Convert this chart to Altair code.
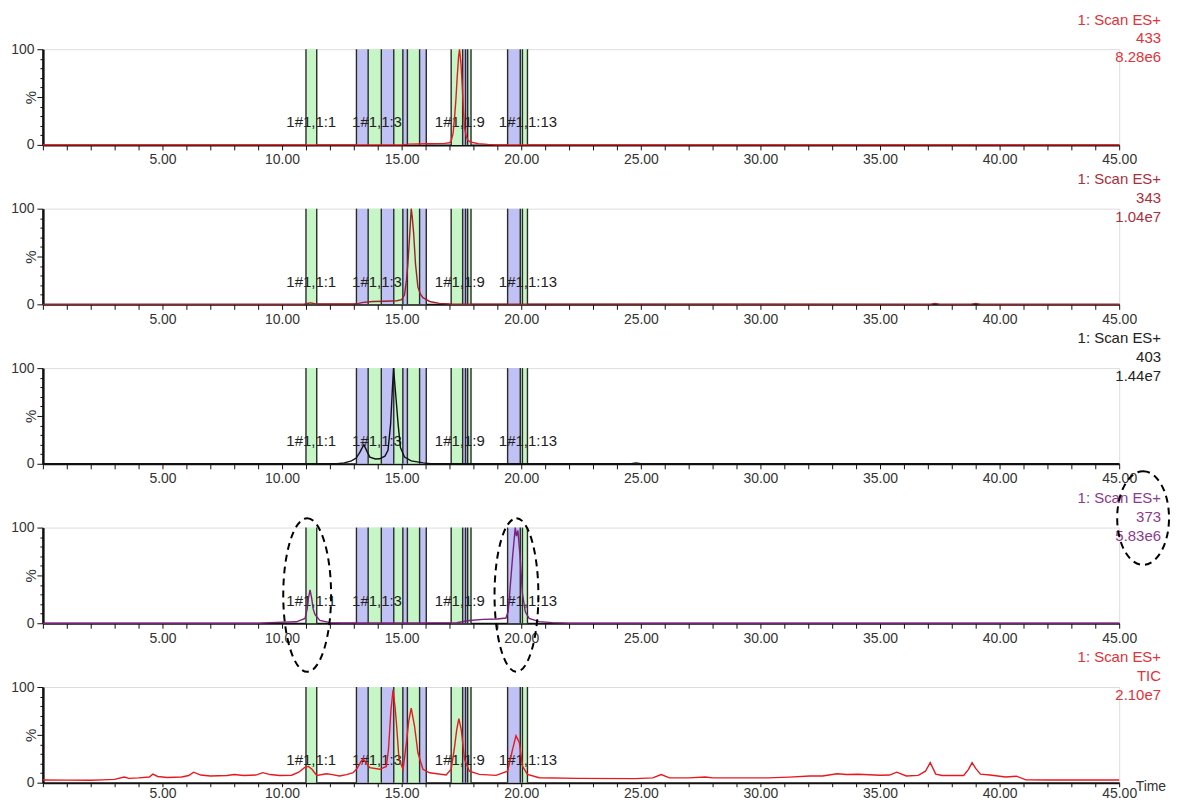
import altair as alt
import pandas as pd

# ---------------- data ----------------
x_tick_values = list(range(0, 46))
y_tick_values = list(range(0, 101, 10))

band_start = [11.00, 13.11, 13.60, 14.15, 14.67, 15.05, 15.24, 15.75, 17.07, 17.55, 17.67, 17.76, 19.43, 19.96, 20.05]
band_end = [11.45, 13.60, 14.15, 14.67, 15.05, 15.24, 15.75, 16.03, 17.55, 17.67, 17.76, 17.90, 19.96, 20.05, 20.26]
band_kind = ["g", "b", "g", "b", "g", "b", "g", "b", "g", "b", "b", "g", "b", "g", "g"]

frac_labels = ["1#1,1:1", "1#1,1:3", "1#1,1:9", "1#1,1:13"]
frac_label_time = [11.22, 13.97, 17.43, 20.28]
FRAC_LABEL_PCT = 23.5

scan_name = "1: Scan ES+"
channels = ["433", "343", "403", "373", "TIC"]
intensities = ["8.28e6", "1.04e7", "1.44e7", "5.83e6", "2.10e7"]

t_433 = [0, 15.0, 15.3, 15.7, 16.0, 16.4, 16.8, 17.0, 17.07, 17.15, 17.21, 17.27, 17.32, 17.38, 17.42, 17.48,
         17.53, 17.58, 17.63, 17.7, 17.76, 17.85, 17.97, 18.2, 18.6, 19.0, 45]
p_433 = [0, 0, 0.8, 1.0, 1.2, 1.3, 1.6, 2.2, 4, 12, 28, 48, 70, 92, 100, 85,
         63, 38, 18, 9, 5, 3.5, 2.5, 1.3, 0.5, 0, 0]

t_343 = [0, 10.9, 11.1, 11.2, 11.4, 13.0, 13.2, 13.4, 13.8, 14.3, 14.8, 15.0, 15.12, 15.2, 15.26, 15.33, 15.4,
         15.44, 15.5, 15.58, 15.68, 15.78, 15.89, 16.17, 16.58, 17.0, 37.1, 37.3, 37.5, 38.8, 39.0, 39.2, 45]
p_343 = [0, 0, 1.2, 1.5, 0.3, 0.3, 1, 2, 3, 3.3, 3.8, 5, 10, 25, 42, 70, 100,
         92, 75, 42, 18, 11, 7, 3, 1, 0.3, 0, 1, 0, 0, 1, 0, 0]

t_403 = [0, 12.3, 12.6, 12.9, 13.1, 13.25, 13.42, 13.55, 13.67, 13.9, 14.08, 14.3, 14.43, 14.54, 14.61, 14.66,
         14.75, 14.85, 14.95, 15.12, 15.4, 15.9, 16.2, 24.6, 24.8, 25.0, 45]
p_403 = [0, 0, 1, 3, 6, 12, 20, 13, 7, 5, 5.2, 8, 14, 42, 77, 100,
         73, 42, 17, 7, 3, 1, 0, 0, 1, 0, 0]

t_373 = [0, 9.0, 9.5, 10.6, 10.96, 11.05, 11.1, 11.17, 11.24, 11.3, 11.38, 11.58, 12.0, 12.5, 17.3, 17.83,
         18.4, 19.0, 19.36, 19.45, 19.5, 19.64, 19.75, 19.8, 19.86, 19.95, 20.05, 20.17, 20.33, 20.75, 21.3, 22, 45]
p_373 = [0, 0, 0.7, 1.5, 5, 15, 26, 35, 26, 15, 9, 3, 0.7, 0.2, 0.5, 2.8,
         4, 4.5, 5.5, 12, 26, 70, 100, 91, 97, 70, 31, 12, 5, 1.7, 0.7, 0, 0]

t_tic = [0, 1, 2, 2.5, 3, 3.4, 3.6, 4.0, 4.45, 4.6, 4.8, 5.2, 5.8, 6.1, 6.3, 6.6, 7.0, 7.7, 8.0, 8.4, 8.9,
         9.2, 9.5, 9.9, 10.4, 10.7, 10.95, 11.1, 11.25, 11.45, 11.86, 12.1, 12.4, 12.7, 12.97, 13.11, 13.3,
         13.39, 13.53, 13.67, 14.08, 14.36, 14.45, 14.55, 14.64, 14.72, 14.78, 14.89, 15.06, 15.2, 15.3, 15.4,
         15.54, 15.68, 15.89, 16.17, 16.86, 17.07, 17.2, 17.3, 17.39, 17.49, 17.63, 17.83, 18.25, 18.95, 19.43,
         19.64, 19.78, 19.92, 20.05, 20.26, 20.75, 22.4, 24.75, 25.5, 25.85, 26.2, 27.0, 27.7, 28.0, 30.3, 31.2,
         32.07, 32.6, 33.2, 33.6, 34.1, 35.0, 35.4, 35.7, 36.1, 36.6, 36.9, 37.1, 37.33, 37.6, 38.5, 38.7, 38.85,
         39.0, 39.2, 39.6, 40.25, 40.7, 41.1, 42, 44.3, 45]
p_tic = [2.8, 2.7, 2.6, 3, 3.5, 6, 4.5, 5, 6, 9, 6.5, 5.5, 6, 7.5, 11, 8, 7, 7.5, 8.5, 7.5, 8,
         10.5, 8.5, 7.5, 7.8, 11, 16, 17, 14, 7.5, 9.4, 8.5, 7, 8.5, 10.4, 14, 22,
         25, 20, 15.7, 14, 17, 35, 75, 97, 80, 62.7, 24.4, 14, 41.8, 65, 78,
         59, 31.3, 14, 10.4, 8, 14, 35, 55, 67, 55.7, 24.4, 12, 8.7, 7.7, 12,
         35, 49, 42, 17.4, 8.7, 5.2, 4.5, 4.3, 5, 8.5, 5, 5, 6, 5, 5, 5.8,
         7, 7, 9.4, 8.5, 8.8, 7.8, 8, 11, 7, 7.7, 12, 21, 9, 7.5, 7.5, 14, 21,
         15, 9, 8, 6, 6.8, 3, 2.8, 2.8, 2.8]

trace_times = [t_433, t_343, t_403, t_373, t_tic]
trace_pcts = [p_433, p_343, p_403, p_373, p_tic]

# dashed ellipse annotations on the 373 panel: centre (time, %), radii (px)
ell_time = [11.05, 19.8, 46.0]
ell_pct = [29.5, 29.5, 110.0]
ell_rx = [24, 22, 26]
ell_ry = [77, 77, 47]

# ---------------- styling ----------------
W, H, GAP = 1080, 96, 64
FONT = "Liberation Sans"
trace_colors = ["#e8191e", "#a0202a", "#111111", "#7d1f7d", "#e8191e"]
label_colors = ["#e0333a", "#a83040", "#222222", "#8e3a8e", "#e0333a"]
GREEN, BLUE = "#c6f5c6", "#c0c1f5"
LABEL_TIME, LABEL_PCT = 46.75, 131

x_scale = alt.Scale(domain=[0, 45], nice=False, zero=False)
y_scale = alt.Scale(domain=[0, 100], nice=False, zero=False)


def ellipse_path(a, b):
    k = 0.5523
    f = lambda v: f"{v:.4f}"
    return (f"M 0 {f(-b)} C {f(k*a)} {f(-b)} {f(a)} {f(-k*b)} {f(a)} 0 "
            f"C {f(a)} {f(k*b)} {f(k*a)} {f(b)} 0 {f(b)} "
            f"C {f(-k*a)} {f(b)} {f(-a)} {f(k*b)} {f(-a)} 0 "
            f"C {f(-a)} {f(-k*b)} {f(-k*a)} {f(-b)} 0 {f(-b)} Z")


def make_panel(i):
    last = i == len(channels) - 1
    x_axis = alt.Axis(
        values=x_tick_values,
        labelExpr="datum.value > 0 && datum.value % 5 === 0 ? format(datum.value, '.2f') : ''",
        labelFlush=False, labelOverlap=False, labelFontSize=14, labelColor="#333333",
        labelPadding=0 if last else 3, tickSize=4 if last else 5,
        tickColor="#111111", domainColor="#111111", domainWidth=2,
        grid=False,
        title="Time" if last else "",
        titleX=1096, titleY=4, titleAlign="left", titleBaseline="middle",
        titleFontSize=14, titleFontWeight="normal", titleColor="#333333",
    )
    y_axis = alt.Axis(
        values=y_tick_values,
        labelExpr="datum.value === 0 || datum.value === 100 ? datum.label : ''",
        labelFontSize=14, labelColor="#333333", labelPadding=3,
        tickSize={"condition": {"test": "datum.value % 50 === 0", "value": 6}, "value": 3},
        tickColor="#111111", domainColor="#111111", domainWidth=2.5, grid=False,
        title="%", titleX=-12, titleY=48, titleAlign="center", titleBaseline="middle",
        titleFontSize=15, titleFontWeight="normal", titleColor="#333333", titleAngle=270,
    )

    def X(field, **kw):
        return alt.X(field, type="quantitative", scale=x_scale, axis=x_axis, **kw)

    def Y(field):
        return alt.Y(field, type="quantitative", scale=y_scale, axis=y_axis)

    bands = pd.DataFrame({"start": band_start, "end": band_end, "kind": band_kind,
                          "lo": 0, "hi": 100})
    edges = pd.DataFrame({"e": sorted(set(band_start) | set(band_end)), "lo": 0, "hi": 100})
    labels = pd.DataFrame({"t": frac_label_time, "p": FRAC_LABEL_PCT, "txt": frac_labels})
    trace = pd.DataFrame({"t": trace_times[i], "p": trace_pcts[i]})
    side = pd.DataFrame({"t": [LABEL_TIME], "p": [LABEL_PCT],
                         "txt": [f"{scan_name}\n{channels[i]}\n{intensities[i]}"]})

    band_layer = alt.Chart(bands).mark_rect().encode(
        x=X("start"), x2="end", y=Y("lo"), y2="hi",
        color=alt.Color("kind:N", scale=alt.Scale(domain=["g", "b"], range=[GREEN, BLUE]), legend=None),
    )
    edge_layer = alt.Chart(edges).mark_rule(color="#2a2a2a", strokeWidth=1.4).encode(
        x=X("e"), y=Y("lo"), y2="hi")
    label_layer = alt.Chart(labels).mark_text(
        font=FONT, fontSize=15, color="#222222", baseline="middle", align="center"
    ).encode(x=X("t"), y=Y("p"), text="txt:N")
    trace_layer = alt.Chart(trace).mark_line(color=trace_colors[i], strokeWidth=1.4).encode(
        x=X("t"), y=Y("p"))
    side_layer = alt.Chart(side).mark_text(
        font=FONT, fontSize=15, color=label_colors[i], align="right", baseline="middle",
        lineBreak="\n", lineHeight=19
    ).encode(x=X("t"), y=Y("p"), text="txt:N")

    layers = [band_layer, edge_layer, label_layer, trace_layer, side_layer]

    if i == 3:
        rows = []
        for t, p, rx, ry in zip(ell_time, ell_pct, ell_rx, ell_ry):
            # normalise by the horizontal radius so the symbol's nominal size stays narrow
            rows.append({"t": t, "p": p, "path": ellipse_path(1.0, ry / rx), "size": (2 * rx) ** 2})
        ell = pd.DataFrame(rows)
        layers.append(
            alt.Chart(ell).mark_point(filled=False, stroke="black", strokeWidth=2,
                                      strokeDash=[7, 5], opacity=1).encode(
                x=X("t"), y=Y("p"),
                shape=alt.Shape("path:N", scale=None),
                size=alt.Size("size:Q", scale=None),
            )
        )

    return alt.layer(*layers).properties(width=W, height=H)


chart = alt.vconcat(*[make_panel(i) for i in range(len(channels))], spacing=GAP, bounds="flush").properties(
    padding={"left": 2, "top": 2, "right": 0, "bottom": -4}
).configure_view(stroke=None).configure(font=FONT)

chart.save("out.html", embed_options={"renderer": "svg", "actions": False})
